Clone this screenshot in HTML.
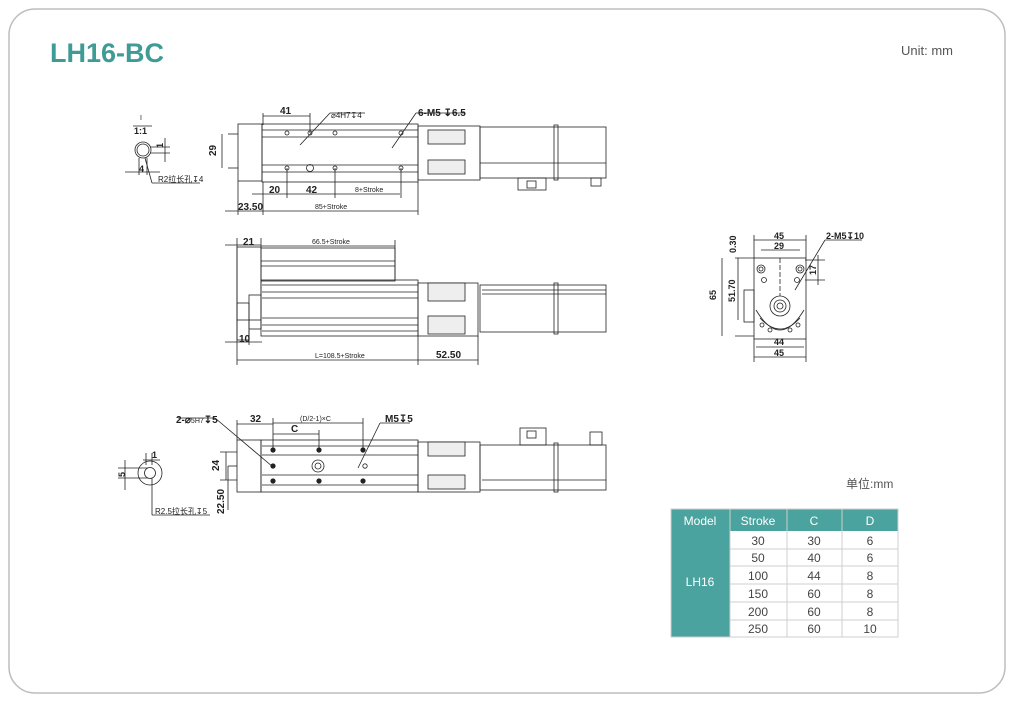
<!DOCTYPE html>
<html><head><meta charset="utf-8"><style>
body{margin:0;background:#fff;width:1021px;height:702px;overflow:hidden}
svg{display:block}
text{font-family:"Liberation Sans","Noto Sans CJK SC",sans-serif}
</style></head><body>
<svg width="1021" height="702" viewBox="0 0 1021 702" xmlns="http://www.w3.org/2000/svg">
<rect x="9" y="9" width="996" height="684" rx="26" fill="#fff" stroke="#bdbdbd" stroke-width="1.5"/>
<text x="50" y="62" font-size="27" font-weight="bold" fill="#3f9b96">LH16-BC</text>
<text x="901" y="55" font-size="13" fill="#555">Unit: mm</text>
<text x="846" y="488" font-size="12" fill="#555">单位:mm</text>

<g stroke="#222" stroke-width="0.8" fill="none">
<!-- TOP VIEW -->
<rect x="238" y="124" width="24" height="57"/>
<rect x="262" y="124" width="156" height="58"/>
<line x1="262" y1="130" x2="418" y2="130"/><line x1="262" y1="137" x2="418" y2="137"/>
<line x1="262" y1="165" x2="418" y2="165"/><line x1="262" y1="172" x2="418" y2="172"/>
<rect x="418" y="126" width="62" height="54"/>
<rect x="428" y="130" width="37" height="14" fill="#eee"/><rect x="428" y="160" width="37" height="14" fill="#eee"/>
<rect x="480" y="127" width="126" height="51"/>
<line x1="480" y1="163" x2="606" y2="163"/>
<rect x="554" y="125" width="4" height="55"/>
<rect x="518" y="178" width="28" height="12"/><rect x="527" y="181" width="9" height="7"/>
<rect x="591" y="178" width="10" height="8"/>
<circle cx="287" cy="133" r="2"/><circle cx="310" cy="133" r="2"/><circle cx="335" cy="133" r="2"/><circle cx="401" cy="133" r="2"/>
<circle cx="287" cy="168" r="2"/><circle cx="310" cy="168" r="3.5"/><circle cx="335" cy="168" r="2"/><circle cx="401" cy="168" r="2"/>
<line x1="263" y1="113" x2="263" y2="125"/><line x1="310" y1="113" x2="310" y2="133"/><line x1="263" y1="116" x2="310" y2="116"/>
<line x1="228" y1="134" x2="238" y2="134"/><line x1="228" y1="168" x2="238" y2="168"/><line x1="222" y1="134" x2="222" y2="168"/>
<line x1="263" y1="182" x2="263" y2="215"/><line x1="287" y1="168" x2="287" y2="198"/><line x1="335" y1="168" x2="335" y2="198"/><line x1="401" y1="168" x2="401" y2="198"/>
<line x1="418" y1="182" x2="418" y2="215"/><line x1="238" y1="181" x2="238" y2="215"/>
<line x1="252" y1="194" x2="400" y2="194"/><line x1="225" y1="211" x2="418" y2="211"/>
<line x1="300" y1="145" x2="330" y2="113"/><line x1="330" y1="113" x2="365" y2="113"/>
<line x1="392" y1="148" x2="416" y2="113"/><line x1="416" y1="113" x2="465" y2="113"/>
<circle cx="143" cy="150" r="8"/><circle cx="143" cy="150" r="6"/>
<line x1="133" y1="126" x2="152" y2="126"/>
<line x1="150" y1="147" x2="170" y2="147"/><line x1="150" y1="153" x2="170" y2="153"/><line x1="165" y1="138" x2="165" y2="162"/>
<line x1="125" y1="172" x2="160" y2="172"/><line x1="139" y1="158" x2="139" y2="175"/><line x1="147" y1="158" x2="147" y2="175"/>
<line x1="145" y1="158" x2="152" y2="183"/><line x1="152" y1="183" x2="200" y2="183"/>

<!-- MIDDLE VIEW -->
<rect x="237" y="247" width="24" height="73"/>
<rect x="261" y="248" width="134" height="33"/><line x1="261" y1="261" x2="395" y2="261"/><line x1="261" y1="266" x2="395" y2="266"/>
<rect x="261" y="280" width="157" height="56"/>
<line x1="262" y1="285" x2="418" y2="285"/><line x1="262" y1="292" x2="418" y2="292"/><line x1="262" y1="298" x2="418" y2="298"/>
<line x1="262" y1="318" x2="418" y2="318"/><line x1="262" y1="325" x2="418" y2="325"/><line x1="262" y1="331" x2="418" y2="331"/>
<rect x="249" y="295" width="12" height="34"/><rect x="237" y="303" width="12" height="37"/>
<rect x="418" y="283" width="60" height="53"/>
<rect x="428" y="283" width="37" height="18" fill="#eee"/><rect x="428" y="316" width="37" height="18" fill="#eee"/>
<rect x="480" y="285" width="126" height="47"/><line x1="482" y1="290" x2="606" y2="290"/><line x1="482" y1="294" x2="606" y2="294"/>
<rect x="554" y="283" width="4" height="51"/>
<line x1="237" y1="238" x2="237" y2="365"/><line x1="261" y1="238" x2="261" y2="248"/><line x1="395" y1="240" x2="395" y2="280"/>
<line x1="225" y1="245" x2="261" y2="245"/><line x1="261" y1="246" x2="395" y2="246"/>
<line x1="225" y1="342" x2="262" y2="342"/><line x1="249" y1="330" x2="249" y2="345"/>
<line x1="418" y1="336" x2="418" y2="365"/><line x1="478" y1="336" x2="478" y2="365"/>
<line x1="237" y1="360" x2="478" y2="360"/>

<!-- BOTTOM VIEW -->
<rect x="237" y="440" width="24" height="52"/>
<rect x="261" y="440" width="157" height="52"/>
<line x1="262" y1="446" x2="418" y2="446"/><line x1="262" y1="455" x2="418" y2="455"/>
<line x1="262" y1="475" x2="418" y2="475"/><line x1="262" y1="485" x2="418" y2="485"/>
<rect x="418" y="442" width="62" height="50"/>
<rect x="428" y="442" width="37" height="14" fill="#eee"/><rect x="428" y="475" width="37" height="14" fill="#eee"/>
<rect x="480" y="445" width="126" height="45"/><line x1="482" y1="480" x2="606" y2="480"/>
<rect x="554" y="443" width="4" height="49"/>
<rect x="520" y="428" width="26" height="17"/><rect x="527" y="431" width="9" height="7"/>
<rect x="590" y="432" width="12" height="13"/>
<circle cx="318" cy="466" r="6"/><circle cx="318" cy="466" r="3"/>
<g fill="#222"><circle cx="273" cy="450" r="2.2"/><circle cx="319" cy="450" r="2.2"/><circle cx="363" cy="450" r="2.2"/>
<circle cx="273" cy="466" r="2.2"/><circle cx="273" cy="481" r="2.2"/><circle cx="319" cy="481" r="2.2"/><circle cx="363" cy="481" r="2.2"/></g>
<circle cx="365" cy="466" r="2.2"/>
<line x1="237" y1="420" x2="237" y2="440"/><line x1="273" y1="418" x2="273" y2="450"/><line x1="363" y1="418" x2="363" y2="450"/><line x1="319" y1="430" x2="319" y2="450"/>
<line x1="237" y1="424" x2="273" y2="424"/><line x1="273" y1="423" x2="363" y2="423"/><line x1="273" y1="434" x2="319" y2="434"/>
<line x1="220" y1="452" x2="237" y2="452"/><line x1="220" y1="480" x2="237" y2="480"/><line x1="226" y1="452" x2="226" y2="480"/>
<line x1="228" y1="466" x2="237" y2="466"/><line x1="228" y1="466" x2="228" y2="510"/>
<line x1="215" y1="418" x2="273" y2="467"/><line x1="178" y1="418" x2="215" y2="418"/>
<line x1="358" y1="468" x2="380" y2="423"/><line x1="380" y1="423" x2="410" y2="423"/>
<circle cx="150" cy="473" r="12"/><circle cx="150" cy="473" r="5.5"/>
<line x1="143" y1="460" x2="160" y2="460"/><line x1="146" y1="453" x2="146" y2="465"/><line x1="152" y1="453" x2="152" y2="465"/>
<line x1="118" y1="468" x2="148" y2="468"/><line x1="118" y1="478" x2="148" y2="478"/><line x1="125" y1="460" x2="125" y2="490"/>
<line x1="152" y1="478" x2="152" y2="515"/><line x1="152" y1="515" x2="210" y2="515"/>

<!-- END VIEW -->
<rect x="754" y="258" width="52" height="81"/>
<rect x="744" y="290" width="10" height="32"/>
<circle cx="761" cy="269" r="4"/><circle cx="761" cy="269" r="2"/><circle cx="800" cy="269" r="4"/><circle cx="800" cy="269" r="2"/>
<circle cx="764" cy="280" r="2.5"/><circle cx="797" cy="280" r="2.5"/>
<circle cx="780" cy="306" r="10"/><circle cx="780" cy="306" r="6"/><circle cx="780" cy="306" r="3"/>
<path d="M760 318 Q780 340 800 318"/><path d="M756 310 Q780 350 804 310"/>
<circle cx="762" cy="325" r="2"/><circle cx="798" cy="325" r="2"/><circle cx="770" cy="330" r="2"/><circle cx="790" cy="330" r="2"/>
<line x1="780" y1="258" x2="780" y2="296" stroke-dasharray="5,2"/>
<line x1="754" y1="235" x2="754" y2="258"/><line x1="806" y1="235" x2="806" y2="258"/>
<line x1="754" y1="240" x2="806" y2="240"/><line x1="761" y1="250" x2="800" y2="250"/>
<line x1="735" y1="258" x2="754" y2="258"/><line x1="735" y1="336" x2="754" y2="336"/>
<line x1="722" y1="258" x2="722" y2="336"/><line x1="738" y1="258" x2="738" y2="320"/>
<line x1="805" y1="260" x2="825" y2="260"/><line x1="805" y1="280" x2="825" y2="280"/><line x1="818" y1="255" x2="818" y2="285"/>
<line x1="795" y1="290" x2="825" y2="240"/><line x1="825" y1="240" x2="862" y2="240"/>
<line x1="754" y1="339" x2="754" y2="362"/><line x1="806" y1="339" x2="806" y2="362"/>
<line x1="756" y1="347" x2="804" y2="347"/><line x1="754" y1="357" x2="806" y2="357"/>
</g>

<g font-size="10" font-weight="bold" fill="#222">
<text x="280" y="114">41</text><text x="331" y="118" font-size="8" font-weight="normal">⌀4H7↧4</text>
<text x="418" y="116">6-M5 ↧6.5</text>
<text x="216" y="156" transform="rotate(-90 216 156)">29</text>
<text x="269" y="193">20</text><text x="306" y="193">42</text>
<text x="355" y="192" font-size="7" font-weight="normal">8+Stroke</text>
<text x="238" y="210">23.50</text><text x="315" y="209" font-size="7" font-weight="normal">85+Stroke</text>
<text x="140" y="120" font-size="7" font-weight="normal">I</text><text x="134" y="134" font-size="9">1:1</text>
<text x="163" y="148" font-size="9" transform="rotate(-90 163 148)">1</text>
<text x="139" y="172" font-size="9">4</text>
<text x="158" y="182" font-size="8" font-weight="normal">R2拉长孔↧4</text>

<text x="243" y="245">21</text><text x="312" y="244" font-size="7" font-weight="normal">66.5+Stroke</text>
<text x="239" y="342">10</text><text x="315" y="358" font-size="7" font-weight="normal">L=108.5+Stroke</text>
<text x="436" y="358">52.50</text>

<text x="176" y="423">2-⌀<tspan font-size="7" font-weight="normal">5H7</tspan>↧5</text>
<text x="250" y="422">32</text>
<text x="300" y="421" font-size="7" font-weight="normal">(D/2-1)×C</text>
<text x="291" y="432">C</text><text x="385" y="422">M5↧5</text>
<text x="219" y="471" transform="rotate(-90 219 471)">24</text>
<text x="224" y="514" transform="rotate(-90 224 514)">22.50</text>
<text x="152" y="458" font-size="9">1</text>
<text x="125" y="477" font-size="9" transform="rotate(-90 125 477)">5</text>
<text x="155" y="514" font-size="8" font-weight="normal">R2.5拉长孔↧5</text>

<text x="774" y="239" font-size="9">45</text><text x="774" y="249" font-size="9">29</text>
<text x="826" y="239" font-size="9">2-M5↧10</text>
<text x="736" y="253" font-size="9" transform="rotate(-90 736 253)">0.30</text>
<text x="716" y="300" font-size="9" transform="rotate(-90 716 300)">65</text>
<text x="735" y="302" font-size="9" transform="rotate(-90 735 302)">51.70</text>
<text x="816" y="275" font-size="9" transform="rotate(-90 816 275)">17</text>
<text x="774" y="345" font-size="9">44</text><text x="774" y="356" font-size="9">45</text>
</g>

<g font-size="12" fill="#444" text-anchor="middle">
<rect x="671" y="509" width="227" height="22" fill="#4aa39e"/>
<rect x="671" y="531" width="59" height="106" fill="#4aa39e"/>
<g stroke="#cfcfcf" stroke-width="1" fill="none">
<rect x="671" y="509" width="227" height="128"/>
<line x1="730" y1="509" x2="730" y2="637"/><line x1="787" y1="509" x2="787" y2="637"/><line x1="842" y1="509" x2="842" y2="637"/>
<line x1="730" y1="549" x2="898" y2="549"/><line x1="730" y1="566" x2="898" y2="566"/><line x1="730" y1="584" x2="898" y2="584"/>
<line x1="730" y1="602" x2="898" y2="602"/><line x1="730" y1="620" x2="898" y2="620"/>
</g>
<text x="700" y="525" fill="#fff">Model</text><text x="758" y="525" fill="#fff">Stroke</text>
<text x="814" y="525" fill="#fff">C</text><text x="870" y="525" fill="#fff">D</text>
<text x="700" y="586" fill="#fff">LH16</text>
<text x="758" y="545">30</text><text x="814" y="545">30</text><text x="870" y="545">6</text>
<text x="758" y="562">50</text><text x="814" y="562">40</text><text x="870" y="562">6</text>
<text x="758" y="580">100</text><text x="814" y="580">44</text><text x="870" y="580">8</text>
<text x="758" y="598">150</text><text x="814" y="598">60</text><text x="870" y="598">8</text>
<text x="758" y="616">200</text><text x="814" y="616">60</text><text x="870" y="616">8</text>
<text x="758" y="633">250</text><text x="814" y="633">60</text><text x="870" y="633">10</text>
</g>
</svg>
</body></html>
